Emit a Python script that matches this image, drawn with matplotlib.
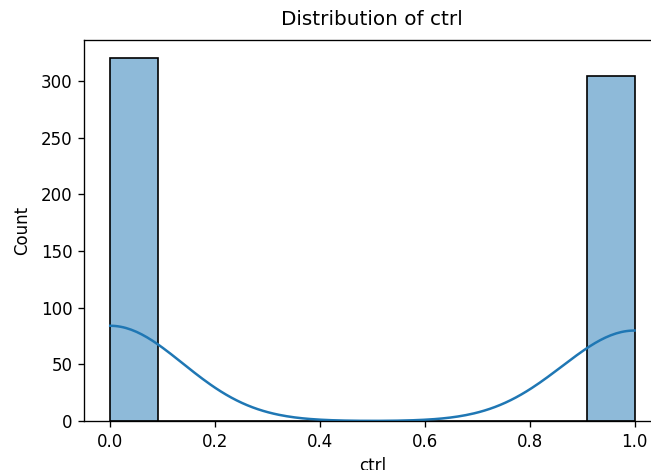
import numpy as np
import pandas as pd
import matplotlib
matplotlib.use("Agg")
import matplotlib.pyplot as plt
import seaborn as sns

# observed values of ctrl and how often each occurs
ctrl_values = [0, 1]
ctrl_counts = [320, 304]

df = pd.DataFrame({"ctrl": np.repeat(ctrl_values, ctrl_counts)})

DPI = 120
fig = plt.figure(figsize=(651 / DPI, 470 / DPI), dpi=DPI)
# the reference is cropped on the right and bottom, so the axes run past the edge
ax = fig.add_axes([0.129, 0.104, 0.886, 0.811])

sns.histplot(data=df, x="ctrl", kde=True, ax=ax)
ax.set_title("Distribution of ctrl", pad=9)
ax.set_xlabel("ctrl")
ax.set_ylabel("Count", labelpad=6)

fig.savefig("out.png", dpi=DPI)
